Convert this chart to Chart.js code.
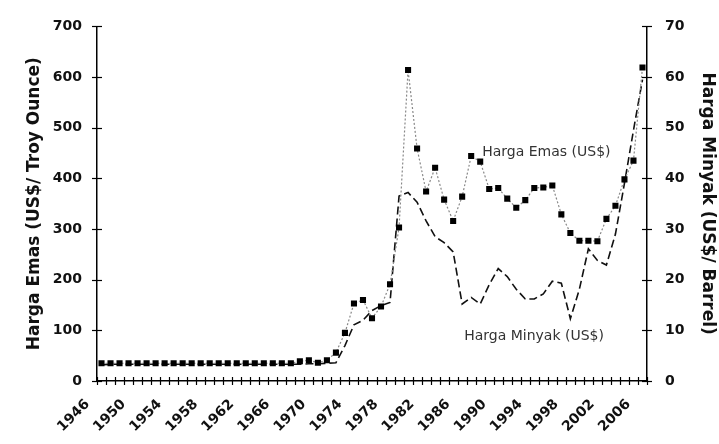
<!DOCTYPE html>
<html>
<head>
<meta charset="utf-8">
<script src="https://cdn.jsdelivr.net/npm/chart.js@4.4.0/dist/chart.umd.min.js"></script>
<style>
  html, body { margin: 0; padding: 0; background: #fff; }
  #wrap { width: 719px; height: 444px; }
</style>
</head>
<body>
<div id="wrap"><canvas id="c" width="719" height="444"></canvas></div>
<script>
const years = [];
for (let y = 1946; y <= 2006; y++) years.push(String(y));

// Harga Emas (US$/Troy Ounce), 1946-2006
const goldPrice = [
  35, 35, 35, 35, 35, 35, 35, 35, 35, 35,
  35, 35, 35, 35, 35, 35, 35, 35, 35, 35,
  35, 35, 39, 41, 36, 41, 56, 95, 153, 160,
  124, 147, 191, 303, 614, 459, 374, 421, 358, 316,
  364, 444, 433, 379, 381, 360, 342, 357, 381, 382,
  386, 329, 292, 277, 277, 276, 320, 346, 398, 435,
  619
];

// Harga Minyak (US$/Barrel), 1946-2006
const oilPrice = [
  3.2, 3.3, 3.3, 3.3, 3.3, 3.3, 3.3, 3.3, 3.3, 3.3,
  3.3, 3.3, 3.3, 3.3, 3.3, 3.3, 3.3, 3.3, 3.3, 3.3,
  3.3, 3.3, 3.3, 3.4, 3.4, 3.5, 3.6, 7.0, 11.1, 12.0,
  13.9, 14.9, 15.5, 36.5, 37.2, 35.3, 31.6, 28.5, 27.3, 25.5,
  15.2, 16.5, 15.2, 19.0, 22.2, 20.6, 18.1, 16.2, 16.2, 17.2,
  19.7, 19.3, 12.3, 18.1, 26.1, 23.8, 22.9, 29.0, 39.0, 49.5,
  59.5
];

const goldTicks = [0, 100, 200, 300, 400, 500, 600, 700];
const oilTicks = [0, 10, 20, 30, 40, 50, 60, 70];

// in-chart series labels: [text, anchor year, value on gold axis]
const seriesNotes = [
  ['Harga Emas (US$)', '1988', 452],
  ['Harga Minyak (US$)', '1986', 88]
];

const FONT = "'DejaVu Sans', Verdana, sans-serif";

const crossTicks = {
  id: 'crossTicks',
  afterDraw(chart) {
    const ctx = chart.ctx;
    const a = chart.chartArea;
    ctx.save();
    ctx.strokeStyle = '#000';
    ctx.lineWidth = 1.2;
    const ys = chart.scales.y, y1 = chart.scales.y1, xs = chart.scales.x;
    ys.ticks.forEach(t => {
      const p = Math.round(ys.getPixelForValue(t.value)) + 0.5;
      ctx.beginPath(); ctx.moveTo(a.left - 5, p); ctx.lineTo(a.left + 5, p); ctx.stroke();
    });
    y1.ticks.forEach(t => {
      const p = Math.round(y1.getPixelForValue(t.value)) + 0.5;
      ctx.beginPath(); ctx.moveTo(a.right - 5, p); ctx.lineTo(a.right + 5, p); ctx.stroke();
    });
    const n = years.length;
    const step = xs.getPixelForValue(1) - xs.getPixelForValue(0);
    for (let i = 0; i <= n; i++) {
      const p = Math.round(xs.getPixelForValue(i) - step / 2) + 0.5;
      ctx.beginPath(); ctx.moveTo(p, a.bottom - 4); ctx.lineTo(p, a.bottom + 4); ctx.stroke();
    }
    ctx.font = '14px ' + FONT;
    ctx.fillStyle = '#333';
    ctx.textAlign = 'left';
    ctx.textBaseline = 'middle';
    seriesNotes.forEach(([txt, yr, v]) => {
      const px = xs.getPixelForValue(years.indexOf(yr));
      const py = ys.getPixelForValue(v);
      ctx.fillText(txt, px + 2, py);
    });
    ctx.restore();
  }
};

new Chart(document.getElementById('c'), {
  type: 'line',
  data: {
    labels: years,
    datasets: [
      {
        label: 'Harga Emas (US$)',
        data: goldPrice,
        yAxisID: 'y',
        borderColor: '#888',
        borderWidth: 1.2,
        borderDash: [2, 2],
        pointStyle: 'rect',
        pointRadius: 4.3,
        pointBackgroundColor: '#000',
        pointBorderColor: '#000',
        pointBorderWidth: 0,
        tension: 0
      },
      {
        label: 'Harga Minyak (US$)',
        data: oilPrice,
        yAxisID: 'y1',
        borderColor: '#111',
        borderWidth: 1.6,
        borderDash: [8, 4],
        pointRadius: 0,
        tension: 0
      }
    ]
  },
  options: {
    responsive: false,
    animation: false,
    devicePixelRatio: 1,
    layout: { padding: { left: 0, right: 0, top: 16, bottom: 0 } },
    plugins: { legend: { display: false }, tooltip: { enabled: false } },
    scales: {
      x: {
        type: 'category',
        offset: true,
        grid: { display: true, offset: true, drawOnChartArea: false, drawTicks: false },
        border: { color: '#000', width: 1.5 },
        ticks: {
          autoSkip: false,
          minRotation: 45,
          maxRotation: 45,
          padding: 15,
          labelOffset: -14,
          color: '#111',
          font: { family: FONT, size: 14, weight: 'bold' },
          callback: (v, i) => (i % 4 === 0 ? years[i] : '')
        },
        afterFit: s => { s.height = 63; }
      },
      y: {
        position: 'left',
        min: 0, max: 700,
        grid: { drawOnChartArea: false, drawTicks: false },
        border: { color: '#000', width: 1.5 },
        afterBuildTicks: s => { s.ticks = goldTicks.map(v => ({ value: v })); },
        ticks: {
          padding: 15,
          color: '#111',
          font: { family: FONT, size: 14, weight: 'bold' }
        },
        title: {
          display: true,
          text: 'Harga Emas (US$/ Troy Ounce)',
          color: '#111',
          font: { family: FONT, size: 17, weight: 'bold' },
          padding: { top: 24, bottom: 0 }
        },
        afterFit: s => { s.width = 97; }
      },
      y1: {
        position: 'right',
        min: 0, max: 70,
        grid: { drawOnChartArea: false, drawTicks: false },
        border: { color: '#000', width: 1.5 },
        afterBuildTicks: s => { s.ticks = oilTicks.map(v => ({ value: v })); },
        ticks: {
          padding: 18,
          color: '#111',
          font: { family: FONT, size: 14, weight: 'bold' }
        },
        title: {
          display: true,
          text: 'Harga Minyak (US$/ Barrel)',
          color: '#111',
          font: { family: FONT, size: 17, weight: 'bold' },
          padding: { top: 1, bottom: 0 }
        },
        afterFit: s => { s.width = 72; }
      }
    }
  },
  plugins: [crossTicks]
});
</script>
</body>
</html>
